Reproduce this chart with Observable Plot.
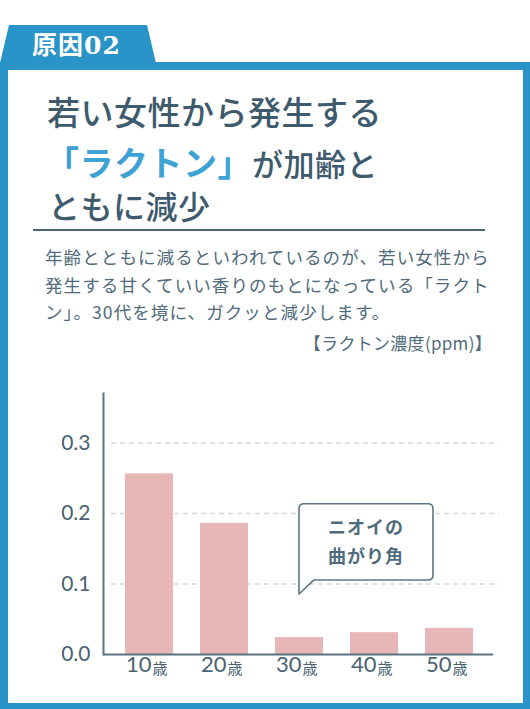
<!DOCTYPE html>
<html>
<head>
<meta charset="utf-8">
<script src="https://cdn.jsdelivr.net/npm/d3@7"></script>
<script src="https://cdn.jsdelivr.net/npm/@observablehq/plot@0.6"></script>
<style>
  html, body { margin: 0; padding: 0; background: #fff; }
  #page { position: relative; width: 530px; height: 709px; overflow: hidden; background: #fff;
          font-family: "Noto Sans CJK JP", "Noto Sans", sans-serif; }
  .abs { position: absolute; white-space: nowrap; }
  #frame { position: absolute; left: 0; top: 62px; width: 530px; height: 647px; box-sizing: border-box;
           border-style: solid; border-color: #2a93c7; border-width: 8px 7px 6px 8px; }
  #tabtext { left: 32px; top: 33px; font-size: 25px; line-height: 25px; color: #fff; font-weight: 700;
             font-family: "DejaVu Serif", "Noto Sans CJK JP", serif; letter-spacing: 1px; }
  .title { color: #3e5a6d; font-weight: 500; line-height: 1; letter-spacing: 0.5px; }
  .blue { color: #3fa2d4; font-weight: 700; }
  #divider { left: 33px; top: 229px; width: 452px; height: 2px; background: #4a6478; }
  #body { left: 45px; top: 243px; font-size: 17.5px; line-height: 27.5px; color: #4f6a7b; letter-spacing: 1.1px; }
  #unit { right: 38px; top: 333px; font-size: 17px; line-height: 19px; color: #4f6a7b; letter-spacing: 0.3px; }
  #chart { position: absolute; left: 0; top: 380px; }
</style>
</head>
<body>
<div id="page">
  <svg class="abs" style="left:0;top:0" width="530" height="70">
    <polygon points="9,25 147,25 156,63 0,63" fill="#2a93c7"></polygon>
  </svg>
  <div id="frame"></div>
  <div id="tabtext" class="abs">原因02</div>
  <div class="abs title" style="left:47px;top:95px;font-size:33px;">若い女性から発生する</div>
  <div class="abs title" style="left:45px;top:145px;font-size:33px;line-height:34px;"><span class="blue" style="font-size:34px;">「ラクトン」</span><span style="font-size:31px;">が加齢と</span></div>
  <div class="abs title" style="left:48px;top:189px;font-size:32px;">ともに減少</div>
  <div id="divider" class="abs"></div>
  <div id="body" class="abs">年齢とともに減るといわれているのが、若い女性から<br>発生する甘くていい香りのもとになっている「ラクト<br>ン」。30代を境に、ガクッと減少します。</div>
  <div id="unit" class="abs">【ラクトン濃度(ppm)】</div>
  <div id="chart"></div>
</div>
<script>
// ---- data ----
const ages = ["10歳", "20歳", "30歳", "40歳", "50歳"];
const ageNums = ["10", "20", "30", "40", "50"];
const ageUnit = "歳";
const lactone = [0.256, 0.186, 0.024, 0.031, 0.037];
const yTicks = [0, 0.1, 0.2, 0.3];
const yTickLabels = ["0.0", "0.1", "0.2", "0.3"];
const calloutLines = ["ニオイの", "曲がり角"];
const calloutAt = "30歳";

const data = ages.map((a, i) => ({age: a, num: ageNums[i], unit: ageUnit, v: lactone[i]}));
const axisColor = "#5b7382";
const textColor = "#4a6272";

const chart = Plot.plot({
  width: 530,
  height: 310,
  marginTop: 13,
  marginBottom: 36,
  marginLeft: 95,
  marginRight: 28,
  x: {domain: ages, padding: 0.36, axis: null},
  y: {domain: [0, 0.37], axis: null},
  style: {background: "transparent", fontFamily: "Lato, 'Noto Sans CJK JP', sans-serif", overflow: "visible"},
  marks: [
    Plot.ruleY(yTicks.filter(d => d > 0), {stroke: "#d3d9dd", strokeWidth: 1.5, strokeDasharray: "5,4", insetLeft: 16, insetRight: 3}),
    Plot.barY(data, {x: "age", y: "v", fill: "#e7b7b7"}),
    Plot.ruleY([0], {stroke: axisColor, strokeWidth: 2, insetLeft: 8, insetRight: 9}),
    Plot.frame({anchor: "left", dx: 8, stroke: axisColor, strokeWidth: 2}),
    Plot.text(yTicks, {y: d => d, text: (d, i) => yTickLabels[i], frameAnchor: "left", textAnchor: "end", dx: -5, fontSize: 21, fill: textColor}),
    Plot.text(data, {x: "age", text: "num", frameAnchor: "bottom", textAnchor: "end", dx: 2, dy: 17, fontSize: 22, fill: textColor, style: "letter-spacing:-1.5px"}),
    Plot.text(data, {x: "age", text: "unit", frameAnchor: "bottom", textAnchor: "start", dx: 3, dy: 19.5, fontSize: 15, fill: textColor})
  ]
});
document.getElementById("chart").appendChild(chart);

// callout annotation positioned from the chart's scales
const sx = chart.scale("x"), sy = chart.scale("y");
const cL = sx.apply(calloutAt) + sx.bandwidth / 2;
const cR = cL + 134;
const cTop = sy.apply(0.213), cBottom = sy.apply(0.105), cTip = sy.apply(0.085);
const cr = 5;
const cPath = `M${cL},${cTip} L${cL},${cTop + cr} Q${cL},${cTop} ${cL + cr},${cTop} L${cR - cr},${cTop} Q${cR},${cTop} ${cR},${cTop + cr} L${cR},${cBottom - cr} Q${cR},${cBottom} ${cR - cr},${cBottom} L${cL + 15},${cBottom} Z`;
const cg = d3.select(chart).append("g");
cg.append("path").attr("d", cPath).attr("fill", "#fff").attr("stroke", "#5a7584").attr("stroke-width", 1.6).attr("stroke-linejoin", "round");
const cMid = (cTop + cBottom) / 2;
calloutLines.forEach((t, i) => {
  cg.append("text").attr("x", cL + 67).attr("y", cMid - 14 + i * 29).attr("dy", "0.36em")
    .attr("text-anchor", "middle").attr("font-size", 18).attr("font-weight", 700)
    .attr("font-family", "'Noto Sans CJK JP', sans-serif").attr("letter-spacing", 1)
    .attr("fill", "#4f6b7c").text(t);
});
</script>
</body>
</html>
